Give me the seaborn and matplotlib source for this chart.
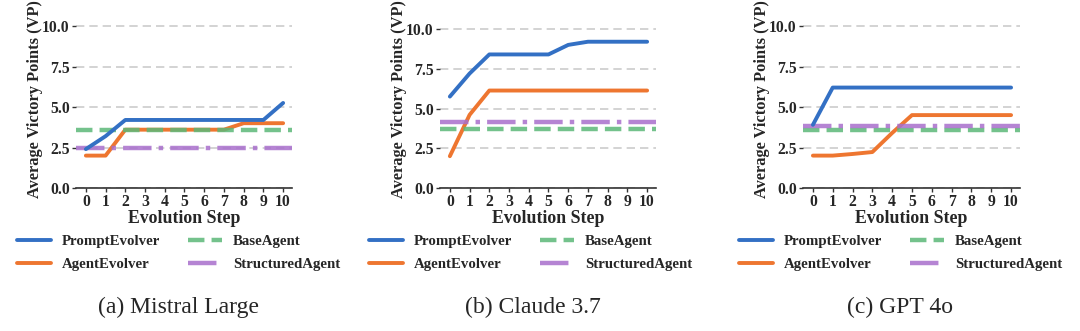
import matplotlib
matplotlib.use("Agg")
import matplotlib.pyplot as plt
import seaborn as sns
import pandas as pd
import numpy as np

steps = list(range(11))

models = ["Mistral Large", "Claude 3.7", "GPT 4o"]
captions = ["(a) Mistral Large", "(b) Claude 3.7", "(c) GPT 4o"]

prompt_mistral = [2.4, 3.2, 4.2, 4.2, 4.2, 4.2, 4.2, 4.2, 4.2, 4.2, 5.25]
agent_mistral = [2.0, 2.0, 3.6, 3.6, 3.6, 3.6, 3.6, 3.6, 4.0, 4.0, 4.0]
base_mistral = 3.6
struct_mistral = 2.5

prompt_claude = [5.75, 7.2, 8.4, 8.4, 8.4, 8.4, 9.0, 9.2, 9.2, 9.2, 9.2]
agent_claude = [2.0, 4.6, 6.13, 6.13, 6.13, 6.13, 6.13, 6.13, 6.13, 6.13, 6.13]
base_claude = 3.72
struct_claude = 4.12

prompt_gpt = [3.9, 6.2, 6.2, 6.2, 6.2, 6.2, 6.2, 6.2, 6.2, 6.2, 6.2]
agent_gpt = [2.0, 2.0, 2.1, 2.22, 3.4, 4.5, 4.5, 4.5, 4.5, 4.5, 4.5]
base_gpt = 3.61
struct_gpt = 3.82

prompts = [prompt_mistral, prompt_claude, prompt_gpt]
agents = [agent_mistral, agent_claude, agent_gpt]
bases = [base_mistral, base_claude, base_gpt]
structs = [struct_mistral, struct_claude, struct_gpt]

yticks = [0.0, 2.5, 5.0, 7.5, 10.0]

sns.set_theme(style="white")
plt.rcParams['font.family'] = ['Liberation Serif', 'DejaVu Serif']
plt.rcParams['font.weight'] = 'bold'

C_BLUE = "#3370c4"
C_ORANGE = "#ee7630"
C_GREEN = "#5cb878"
C_PURPLE = "#a86fcc"

W, H = 1080, 331
fig = plt.figure(figsize=(W / 100, H / 100), dpi=100)

# axes boxes in pixel coords: (left, right, y of 0, y of 10)
boxes = [(76, 292, 188, 26), (440, 656, 188, 29), (803, 1020, 188, 26)]
legend_x = [17, 369, 739]
caption_x = [178, 533, 900]
ylabel_x = [43, 407, 770]

for i in range(3):
    l, r, y0, y10 = boxes[i]
    per = (y0 - y10) / 10.0
    top = y0 - 11 * per
    ax = fig.add_axes([l / W, 1 - y0 / H, (r - l) / W, (y0 - top) / H])
    df = pd.DataFrame({"step": steps, "PromptEvolver": prompts[i], "AgentEvolver": agents[i]})
    sns.lineplot(data=df, x="step", y="AgentEvolver", ax=ax, color=C_ORANGE, lw=2.8,
                 label="AgentEvolver", zorder=3)
    ax.axhline(bases[i], color=C_GREEN, lw=3.2, ls="--", alpha=0.85, label="BaseAgent", zorder=4)
    ax.axhline(structs[i], color=C_PURPLE, lw=3.2, ls="-.", alpha=0.85, label="StructuredAgent", zorder=4)
    sns.lineplot(data=df, x="step", y="PromptEvolver", ax=ax, color=C_BLUE, lw=2.8,
                 label="PromptEvolver", zorder=5)
    ax.set_xlim(-0.5, 10.45)
    ax.set_ylim(0, 11)
    ax.set_xticks(steps)
    ax.set_yticks(yticks)
    ax.set_yticklabels([f"{v:.1f}" for v in yticks])
    ax.yaxis.grid(True, ls=(0, (5, 3)), color="#cccccc", lw=1.2)
    ax.set_axisbelow(True)
    for s in ["top", "right", "left"]:
        ax.spines[s].set_visible(False)
    ax.spines["bottom"].set_color("#333333")
    ax.spines["bottom"].set_linewidth(1.2)
    ax.tick_params(axis="both", labelsize=11.3, length=3, width=1, color="#333333",
                   pad=1.5, left=True, bottom=True)
    for t in ax.get_xticklabels() + ax.get_yticklabels():
        t.set_fontweight("bold")
    ax.set_xlabel("Evolution Step", fontsize=12.8, fontweight="bold", labelpad=0)
    ax.set_ylabel("Average Victory Points (VP)", fontsize=11.8, fontweight="bold")
    ax.yaxis.set_label_coords((ylabel_x[i] - l) / (r - l), (y0 - 99.5) / (y0 - top))
    handles, labels = ax.get_legend_handles_labels()
    order = ["PromptEvolver", "AgentEvolver", "BaseAgent", "StructuredAgent"]
    hmap = dict(zip(labels, handles))
    leg = ax.legend([hmap[k] for k in order], order, loc="upper left",
                    bbox_to_anchor=(legend_x[i] / W, 1 - 235 / H),
                    bbox_transform=fig.transFigure, ncol=2, frameon=False,
                    handlelength=2.3, handletextpad=0.7,
                    columnspacing=1.9, labelspacing=0.62, borderpad=0, borderaxespad=0,
                    prop={"weight": "bold", "size": 10.7})
    fig.text(caption_x[i] / W, 1 - 307 / H, captions[i], ha="center", va="center",
             fontsize=17, fontweight="normal")

fig.savefig("out.png", dpi=100)
